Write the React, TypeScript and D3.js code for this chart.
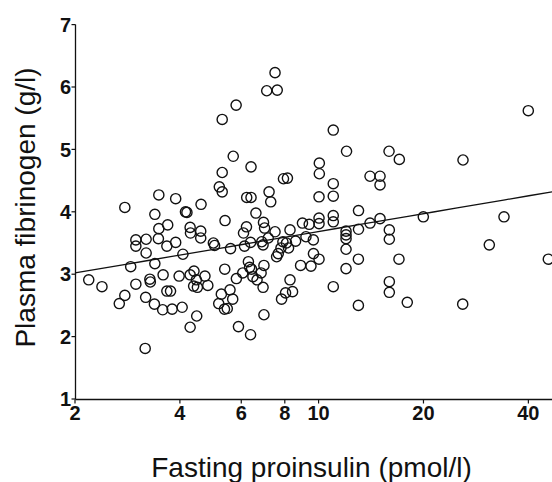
import React from "react";
import * as d3 from "d3";

const proinsulin = [
  2.19, 2.39, 2.68, 2.78, 2.78, 2.89, 2.99, 2.99, 2.99, 3.19, 3.18, 3.2, 3.2, 3.28, 3.29, 3.38, 3.39, 3.39, 3.48, 3.48,
  3.47, 3.58, 3.57, 3.67, 3.76, 3.69, 3.67, 3.8, 3.89, 3.89, 3.98, 4.06, 4.08, 4.15, 4.19, 4.28, 4.29, 4.28, 4.39, 4.46,
  4.38, 4.49, 4.81, 4.72, 4.28, 4.47, 4.6, 4.59, 4.59, 4.99, 5.03, 5.19, 5.29, 5.29, 5.29, 5.39, 5.38, 5.26, 5.57, 5.67,
  5.17, 5.37, 5.47, 5.59, 5.69, 5.8, 5.81, 5.89, 6.21, 6.09, 6.38, 6.13, 6.22, 6.4, 6.4, 6.61, 6.06, 6.29, 6.34, 6.42,
  6.48, 6.66, 6.84, 6.93, 6.97, 6.97, 6.38, 6.95, 7.0, 6.87, 6.93, 7.17, 7.21, 7.29, 7.1, 7.61, 7.5, 7.5, 7.66, 7.8,
  7.9, 8.09, 7.58, 7.83, 8.04, 8.42, 8.28, 7.93, 8.14, 8.28, 8.59, 8.2, 8.99, 9.4, 9.2, 9.66, 8.88, 9.51, 9.67, 10.03,
  10.05, 10.05, 10.03, 10.03, 10.03, 11.02, 11.02, 11.02, 11.02, 11.02, 12.03, 11.99, 11.99, 11.99, 11.99, 11.99, 11.02, 13.02, 13.02, 13.01,
  13.01, 14.05, 15.01, 15.01, 14.05, 15.01, 15.93, 17.05, 15.96, 15.96, 15.96, 15.96, 17.01, 17.97, 19.98, 25.97, 25.92, 30.9, 34.05, 39.98,
  45.64,
];

const fibrinogen = [
  2.91, 2.8, 2.53, 2.66, 4.07, 3.12, 2.84, 3.55, 3.45, 2.63, 1.81, 3.56, 3.34, 2.92, 2.875, 2.52, 3.96, 3.17, 4.27, 3.73,
  3.57, 2.99, 2.43, 2.73, 2.73, 3.79, 3.45, 2.44, 4.21, 3.51, 2.97, 2.47, 3.32, 4.0, 3.99, 3.75, 3.66, 2.99, 3.05, 2.91,
  2.81, 2.79, 2.82, 2.97, 2.15, 2.33, 4.12, 3.69, 3.58, 3.5, 3.46, 4.4, 4.32, 4.63, 5.48, 3.86, 3.08, 2.68, 2.75, 2.6,
  2.53, 2.44, 2.45, 3.41, 4.89, 5.71, 2.93, 2.16, 3.76, 3.66, 3.51, 3.45, 4.23, 4.23, 4.72, 3.98, 3.02, 3.2, 3.11, 3.08,
  2.96, 2.91, 3.02, 2.79, 3.14, 2.35, 2.03, 3.83, 3.74, 3.52, 3.47, 3.58, 4.32, 4.16, 5.94, 5.95, 6.23, 3.68, 3.33, 3.42,
  3.52, 3.5, 3.28, 2.6, 2.7, 2.72, 2.91, 4.53, 4.54, 3.71, 3.53, 3.42, 3.82, 3.8, 3.6, 3.55, 3.14, 3.13, 3.33, 3.24,
  4.78, 4.61, 4.24, 3.9, 3.81, 5.31, 4.45, 4.25, 3.94, 3.84, 4.97, 3.69, 3.63, 3.57, 3.4, 3.09, 2.8, 4.02, 3.72, 3.24,
  2.5, 4.57, 4.57, 4.43, 3.82, 3.89, 4.97, 4.84, 3.71, 3.56, 2.88, 2.71, 3.24, 2.55, 3.92, 4.83, 2.52, 3.47, 3.92, 5.62,
  3.24,
];

const xTicks = [2, 4, 6, 8, 10, 20, 40];
const yTicks = [1, 2, 3, 4, 5, 6, 7];

// regression: fibrinogen = intercept + slope * log10(proinsulin)
const regIntercept = 2.734;
const regSlope = 0.95;
const regRange = [2, 47];

const xLabel = "Fasting proinsulin (pmol/l)";
const yLabel = "Plasma fibrinogen (g/l)";

export default function App() {
  const W = 552;
  const H = 482;
  const x = d3.scaleLog().domain([2, 47]).range([75, 75 + 104.9 * Math.log2(47 / 2)]);
  const y = d3.scaleLinear().domain([1, 7]).range([399, 24.6]);
  const line = d3
    .line<number>()
    .x((d) => x(d))
    .y((d) => y(regIntercept + regSlope * Math.log10(d)));
  const regPts = d3.range(0, 21).map((i) => regRange[0] * Math.pow(regRange[1] / regRange[0], i / 20));
  const font = "'Liberation Sans', Arial, Helvetica, sans-serif";
  const x0 = 75.5;
  const yBase = 399.5;
  return (
    <div style={{ position: "absolute", left: 0, top: 0 }}>
      <svg width={W} height={H} style={{ display: "block", background: "#fff" }}>
        <rect x={0} y={0} width={W} height={H} fill="#fff" />
        {/* axes */}
        <line x1={x0} x2={x0} y1={y(7)} y2={yBase} stroke="#111" strokeWidth={1.3} />
        <line x1={x0} x2={W} y1={yBase} y2={yBase} stroke="#111" strokeWidth={1.3} />
        {yTicks.map((t) => (
          <g key={"y" + t}>
            <line x1={x0 - 4} x2={x0} y1={y(t)} y2={y(t)} stroke="#111" strokeWidth={1.2} />
            <text
              x={71}
              y={y(t)}
              dy="0.36em"
              textAnchor="end"
              fontFamily={font}
              fontWeight="bold"
              fontSize={20}
              fill="#111"
            >
              {t}
            </text>
          </g>
        ))}
        {xTicks.map((t) => (
          <g key={"x" + t}>
            <line x1={x(t)} x2={x(t)} y1={yBase} y2={yBase + 4} stroke="#111" strokeWidth={1.2} />
            <text
              x={x(t)}
              y={420}
              textAnchor="middle"
              fontFamily={font}
              fontWeight="bold"
              fontSize={20}
              fill="#111"
            >
              {t}
            </text>
          </g>
        ))}
        {/* regression line */}
        <path d={line(regPts) || ""} fill="none" stroke="#111" strokeWidth={1.3} />
        {/* points */}
        {proinsulin.map((v, i) => (
          <circle
            key={i}
            cx={x(v)}
            cy={y(fibrinogen[i])}
            r={5.1}
            fill="none"
            stroke="#111"
            strokeWidth={1.4}
          />
        ))}
        {/* axis titles */}
        <text x={311.5} y={477} textAnchor="middle" fontFamily={font} fontSize={28} fill="#111">
          {xLabel}
        </text>
        <text
          transform={`translate(35,207.5) rotate(-90)`}
          textAnchor="middle"
          fontFamily={font}
          fontSize={28}
          fill="#111"
        >
          {yLabel}
        </text>
      </svg>
    </div>
  );
}
